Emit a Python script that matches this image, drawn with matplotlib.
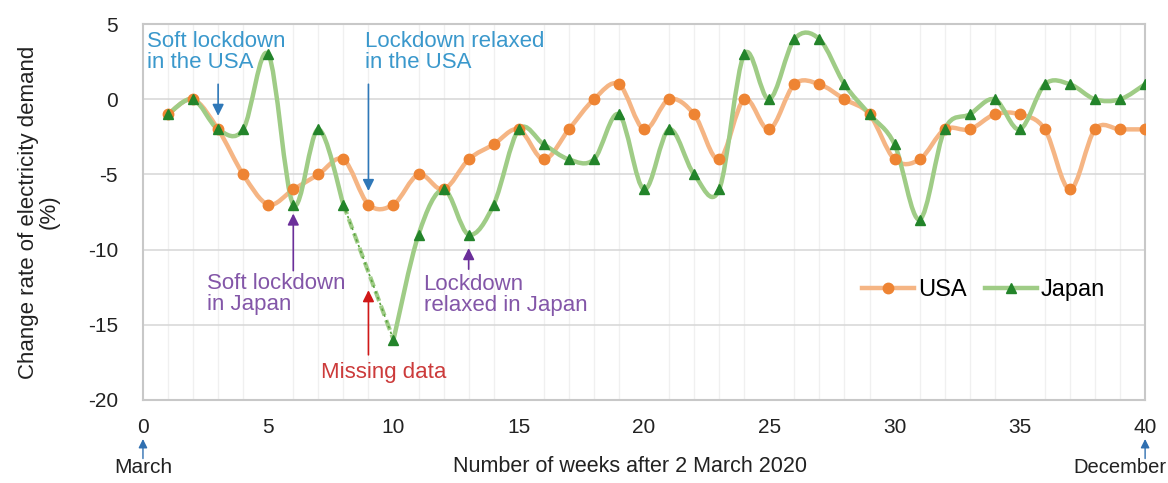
import numpy as np
import matplotlib.pyplot as plt
from matplotlib.path import Path
from matplotlib.patches import PathPatch
from matplotlib.lines import Line2D

plt.rcParams['font.family'] = ['Liberation Sans', 'DejaVu Sans']
plt.rcParams['axes.unicode_minus'] = False

weeks = list(range(1, 41))
usa = [-1, 0, -2, -5, -7, -6, -5, -4, -7, -7,
       -5, -6, -4, -3, -2, -4, -2, 0, 1, -2,
       0, -1, -4, 0, -2, 1, 1, 0, -1, -4,
       -4, -2, -2, -1, -1, -2, -6, -2, -2, -2]
# week 9 missing for Japan
japan = [-1, 0, -2, -2, 3, -7, -2, -7, None, -16,
         -9, -6, -9, -7, -2, -3, -4, -4, -1, -6,
         -2, -5, -6, 3, 0, 4, 4, 1, -1, -3,
         -8, -2, -1, 0, -2, 1, 1, 0, 0, 1]

USA_LINE, USA_MARK = '#f5b584', '#ee8433'
JP_LINE, JP_MARK = '#9fcc86', '#23842a'


def smooth_path(x, y):
    # bezier through each point, like a spreadsheet "smoothed line"
    x = np.asarray(x, float)
    y = np.asarray(y, float)
    px = np.concatenate([[x[0]], x, [x[-1]]])
    py = np.concatenate([[y[0]], y, [y[-1]]])
    verts = [(x[0], y[0])]
    codes = [Path.MOVETO]
    for i in range(len(x) - 1):
        c1 = (px[i + 1] + (px[i + 2] - px[i]) / 6, py[i + 1] + (py[i + 2] - py[i]) / 6)
        c2 = (px[i + 2] - (px[i + 3] - px[i + 1]) / 6, py[i + 2] - (py[i + 3] - py[i + 1]) / 6)
        verts += [c1, c2, (x[i + 1], y[i + 1])]
        codes += [Path.CURVE4] * 3
    return Path(verts, codes)


def draw_smooth(ax, x, y, color):
    ax.add_patch(PathPatch(smooth_path(x, y), facecolor='none', edgecolor=color,
                           lw=3.2, capstyle='round', joinstyle='round', zorder=3))


fig = plt.figure(figsize=(11.68, 4.83), dpi=100)
ax = fig.add_axes([0.1224, 0.172, 0.858, 0.778])

draw_smooth(ax, weeks, usa, USA_LINE)
ax.plot(weeks, usa, 'o', color=USA_MARK, ms=7.5, zorder=4)

jw = [w for w, v in zip(weeks, japan) if v is not None]
jv = [v for v in japan if v is not None]
gap = weeks.index(9)
draw_smooth(ax, weeks[:gap], japan[:gap], JP_LINE)
draw_smooth(ax, weeks[gap + 1:], japan[gap + 1:], JP_LINE)
ax.plot([weeks[gap - 1], weeks[gap + 1]], [japan[gap - 1], japan[gap + 1]],
        ls=(0, (2.5, 1.2)), color=JP_LINE, lw=3, zorder=3)
ax.plot([weeks[gap - 1], weeks[gap + 1]], [japan[gap - 1], japan[gap + 1]],
        ls=(0, (1.5, 2.2)), color='#5aa23f', lw=1.2, zorder=3)
ax.plot(jw, jv, '^', color=JP_MARK, ms=7.5, zorder=5)

ax.set_xlim(0, 40)
ax.set_ylim(-20, 5)
ax.set_xticks(range(0, 41, 5))
ax.set_yticks(range(-20, 6, 5))
ax.set_xticks(range(0, 41), minor=True)
ax.tick_params(which='both', length=0, labelsize=15, colors='#222222')
ax.tick_params(axis='x', pad=13)
ax.tick_params(axis='y', pad=18)
ax.grid(axis='y', which='major', color='#d9d9d9', lw=1.2)
ax.grid(axis='x', which='minor', color='#f0f0f0', lw=1)
ax.set_axisbelow(True)
for s in ax.spines.values():
    s.set_color('#c8c8c8')
    s.set_linewidth(1.5)

ax.set_ylabel('Change rate of electricity demand\n(%)', fontsize=16,
              color='#222222', labelpad=20, linespacing=1.0)
ax.set_xlabel('Number of weeks after 2 March 2020', fontsize=15.5,
              color='#222222', labelpad=14)
ax.xaxis.label.set_x(0.486)

blue_t, blue_a = '#3a98cc', '#2f78b8'
purple_t, purple_a = '#8356a8', '#6b2f9a'
red_t, red_a = '#cc3b3b', '#d01818'
arr = dict(arrowstyle='-|>', lw=1.2, mutation_scale=17, shrinkA=0, shrinkB=0)

ax.text(0.15, 4.55, 'Soft lockdown\nin the USA', color=blue_t, fontsize=16,
        va='top', linespacing=1.0)
ax.annotate('', xy=(3, -1.1), xytext=(3, 1.0), arrowprops=dict(arr, color=blue_a))
ax.text(8.85, 4.55, 'Lockdown relaxed\nin the USA', color=blue_t, fontsize=16,
        va='top', linespacing=1.0)
ax.annotate('', xy=(9, -6.1), xytext=(9, 1.0), arrowprops=dict(arr, color=blue_a))

ax.text(2.55, -11.55, 'Soft lockdown\nin Japan', color=purple_t, fontsize=16,
        va='top', linespacing=1.0)
ax.annotate('', xy=(6, -7.6), xytext=(6, -11.4), arrowprops=dict(arr, color=purple_a))
ax.text(11.2, -11.65, 'Lockdown\nrelaxed in Japan', color=purple_t, fontsize=16,
        va='top', linespacing=1.0)
ax.annotate('', xy=(13, -9.9), xytext=(13, -11.3), arrowprops=dict(arr, color=purple_a))

ax.text(9.6, -17.5, 'Missing data', color=red_t, fontsize=16, ha='center', va='top')
ax.annotate('', xy=(9, -12.7), xytext=(9, -17.0), arrowprops=dict(arr, color=red_a))

# month markers under the axis
for wk in (0, 40):
    ax.annotate('', xy=(wk, -22.6), xytext=(wk, -23.9), annotation_clip=False,
                arrowprops=dict(arr, color='#2f6fb0', lw=1, mutation_scale=13))
ax.text(0, -23.85, 'March', ha='center', va='top', fontsize=15, color='#222222',
        clip_on=False)
ax.text(40.85, -23.85, 'December', ha='right', va='top', fontsize=14.5, color='#222222',
        clip_on=False)

handles = [Line2D([], [], color=USA_LINE, lw=3.2, marker='o', ms=7.5,
                  markerfacecolor=USA_MARK, markeredgecolor=USA_MARK),
           Line2D([], [], color=JP_LINE, lw=3.2, marker='^', ms=7.5,
                  markerfacecolor=JP_MARK, markeredgecolor=JP_MARK)]
ax.legend(handles, ['USA', 'Japan'], loc='center', bbox_to_anchor=(0.839, 0.293),
          ncol=2, frameon=False, fontsize=17, handlelength=2.2, handletextpad=0.15,
          columnspacing=0.8)

fig.savefig('out.png', dpi=100)
